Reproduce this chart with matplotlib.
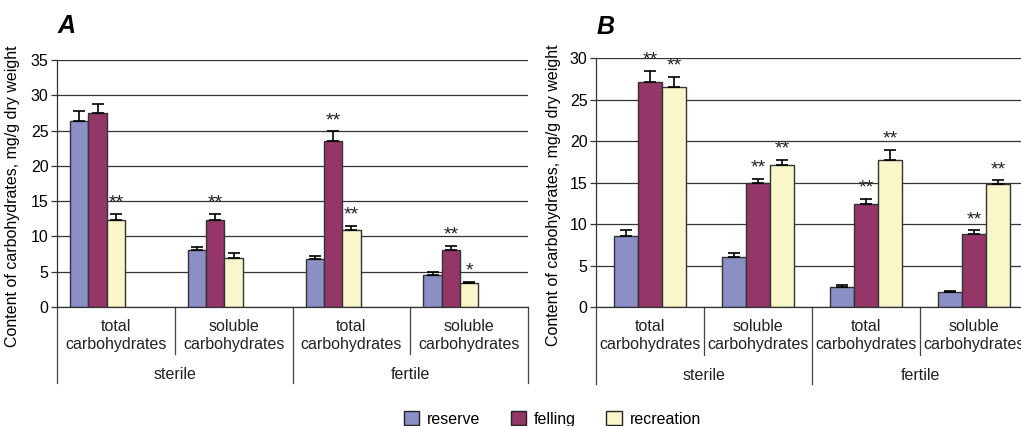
import matplotlib
matplotlib.use("Agg")
import matplotlib.pyplot as plt
from matplotlib.patches import Patch
import numpy as np

plt.rcParams['font.family'] = ['Liberation Sans', 'DejaVu Sans']

categories = ["total\ncarbohydrates", "soluble\ncarbohydrates", "total\ncarbohydrates", "soluble\ncarbohydrates"]
classes = ["sterile", "fertile"]
series = ["reserve", "felling", "recreation"]
colors = ["#8A8FC6", "#953669", "#F9F7C9"]

# Panel A
A_reserve = [26.4, 8.1, 6.75, 4.6]
A_felling = [27.5, 12.3, 23.5, 8.1]
A_recreation = [12.3, 7.0, 10.9, 3.35]
A_reserve_err = [1.4, 0.45, 0.45, 0.3]
A_felling_err = [1.3, 0.9, 1.4, 0.6]
A_recreation_err = [0.9, 0.7, 0.6, 0.25]
A_stars = [["", "", "**"], ["", "**", ""], ["", "**", "**"], ["", "**", "*"]]

# Panel B
B_reserve = [8.6, 6.1, 2.4, 1.8]
B_felling = [27.1, 15.0, 12.4, 8.8]
B_recreation = [26.5, 17.2, 17.8, 14.8]
B_reserve_err = [0.7, 0.4, 0.3, 0.2]
B_felling_err = [1.4, 0.5, 0.7, 0.5]
B_recreation_err = [1.3, 0.6, 1.2, 0.5]
B_stars = [["", "**", "**"], ["", "**", "**"], ["", "**", "**"], ["", "**", "**"]]

FS = 11.5

fig = plt.figure(figsize=(10.21, 4.26), dpi=100)
axA = fig.add_axes([57/1021, 1-307/426, (528-57)/1021, (307-60)/426])
axB = fig.add_axes([596/1021, 1-307.3/426, (1028-596)/1021, (307.3-58.3)/426])

def draw(ax, vals, errs, stars, offsets, width, ymax, letter, lab_x, letter_y):
    x = np.arange(len(categories))
    ax.set_axisbelow(True)
    for s in range(3):
        xs = x + offsets[s]
        ax.bar(xs, vals[s], width, color=colors[s], edgecolor="#333333", linewidth=1.0, zorder=2)
        ax.errorbar(xs, vals[s], yerr=[np.zeros(len(x)), errs[s]], fmt='none', ecolor='black',
                    elinewidth=1.2, capsize=4, capthick=1.2, zorder=3)
        for i in range(len(x)):
            st = stars[i][s]
            if st:
                ax.annotate(st, (xs[i], vals[s][i] + errs[s][i]), xytext=(0, 1.5),
                            textcoords='offset points', ha='center', va='bottom', fontsize=14,
                            color='#222222')
    ax.set_xlim(-0.5, 3.5)
    ax.set_ylim(0, ymax)
    ax.set_yticks(np.arange(0, ymax + 1, 5))
    ax.yaxis.grid(True, color='#333333', linewidth=0.9)
    ax.tick_params(axis='y', labelsize=FS, length=4, width=0.9, color='#333333', pad=2)
    ax.tick_params(axis='x', length=0, labelbottom=False)
    for sp in ['top', 'right']:
        ax.spines[sp].set_visible(False)
    for sp in ['left', 'bottom']:
        ax.spines[sp].set_color('#333333')
        ax.spines[sp].set_linewidth(0.9)
    ax.set_ylabel("Content of carbohydrates, mg/g dry weight", fontsize=FS)
    ax.yaxis.set_label_coords(lab_x, 0.45)
    tr = ax.get_xaxis_transform()
    for i, c in enumerate(categories):
        ax.text(i, -0.048, c, transform=tr, ha='center', va='top', fontsize=FS,
                linespacing=1.25, color='#222222')
    for j, c in enumerate(classes):
        ax.text(2*j + 0.5, -0.243, c, transform=tr, ha='center', va='top', fontsize=FS, color='#222222')
    for b in [-0.5, 0.5, 1.5, 2.5, 3.5]:
        bottom = -0.307 if b in (-0.5, 1.5, 3.5) else -0.19
        ax.plot([b, b], [0, bottom], transform=tr, color='#444444', lw=0.9, clip_on=False)
    ax.text(0.002, letter_y, letter, transform=ax.transAxes, fontsize=18, fontweight='bold',
            fontstyle='italic', ha='left', va='baseline')

wA = 0.155
draw(axA, [A_reserve, A_felling, A_recreation], [A_reserve_err, A_felling_err, A_recreation_err],
     A_stars, [-0.31, -0.155, 0.0], wA, 35, "A", -0.079, 1.108)
wB = 0.222
draw(axB, [B_reserve, B_felling, B_recreation], [B_reserve_err, B_felling_err, B_recreation_err],
     B_stars, [-0.222, 0.0, 0.222], wB, 30, "B", -0.081, 1.099)

handles = [Patch(facecolor=colors[i], edgecolor='#222222', linewidth=1.0, label=series[i]) for i in range(3)]
fig.legend(handles=handles, loc='lower center', bbox_to_anchor=(0.541, -0.035), ncol=3, frameon=False,
           fontsize=FS, handlelength=0.95, handleheight=0.95, columnspacing=1.9, handletextpad=0.5)

fig.savefig("out.png", dpi=100)
